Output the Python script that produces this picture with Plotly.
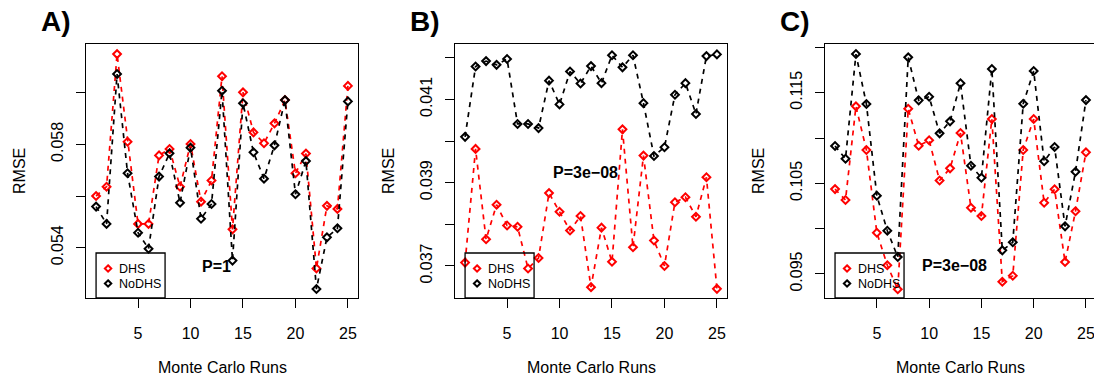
import plotly.graph_objects as go

W, H = 1094, 380

runs = list(range(1, 26))

# Panel A
a_dhs = [0.05600, 0.05636, 0.06149, 0.05810, 0.05492, 0.05492, 0.05757, 0.05782, 0.05636, 0.05801,
         0.05578, 0.05660, 0.06063, 0.05471, 0.06001, 0.05846, 0.05804, 0.05881, 0.05971, 0.05688,
         0.05764, 0.05320, 0.05562, 0.05550, 0.06026]
a_nodhs = [0.05559, 0.05492, 0.06072, 0.05688, 0.05458, 0.05396, 0.05675, 0.05765, 0.05574, 0.05787,
           0.05512, 0.05569, 0.06007, 0.05350, 0.05959, 0.05769, 0.05667, 0.05796, 0.05971, 0.05607,
           0.05735, 0.05240, 0.05440, 0.05475, 0.05966]

# Panel B
b_dhs = [0.03708, 0.03981, 0.03764, 0.03847, 0.03797, 0.03794, 0.03694, 0.03719, 0.03875, 0.03830,
         0.03785, 0.03820, 0.03649, 0.03792, 0.03710, 0.04028, 0.03745, 0.03965, 0.03761, 0.03700,
         0.03853, 0.03865, 0.03818, 0.03913, 0.03645]
b_nodhs = [0.04010, 0.04179, 0.04192, 0.04183, 0.04197, 0.04041, 0.04041, 0.04031, 0.04145, 0.04088,
           0.04167, 0.04138, 0.04180, 0.04139, 0.04206, 0.04177, 0.04206, 0.04091, 0.03964, 0.03985,
           0.04111, 0.04139, 0.04065, 0.04204, 0.04208]

# Panel C
c_dhs = [0.10436, 0.10316, 0.11350, 0.10868, 0.09955, 0.09595, 0.09330, 0.11323, 0.10915, 0.10975,
         0.10531, 0.10665, 0.11055, 0.10231, 0.10139, 0.11210, 0.09414, 0.09480, 0.10868, 0.11210,
         0.10286, 0.10434, 0.09631, 0.10191, 0.10842]
c_nodhs = [0.10912, 0.10771, 0.11927, 0.11375, 0.10363, 0.09977, 0.09687, 0.11891, 0.11416, 0.11456,
           0.11052, 0.11184, 0.11604, 0.10694, 0.10562, 0.11762, 0.09760, 0.09849, 0.11379, 0.11740,
           0.10743, 0.10901, 0.10025, 0.10628, 0.11419]

panel_labels = ["A)", "B)", "C)"]
p_labels = ["P=1", "P=3e\u221208", "P=3e\u221208"]
series_names = ["DHS", "NoDHS"]
x_ticks = [5, 10, 15, 20, 25]
a_yticks = [0.054, 0.056, 0.058, 0.060]
a_yticktext = ["0.054", "", "0.058", ""]
b_yticks = [0.037, 0.038, 0.039, 0.040, 0.041, 0.042]
b_yticktext = ["0.037", "", "0.039", "", "0.041", ""]
c_yticks = [0.095, 0.100, 0.105, 0.110, 0.115, 0.120]
c_yticktext = ["0.095", "", "0.105", "", "0.115", ""]

FONT = "Liberation Sans, Arial, Helvetica, sans-serif"
RED = "#FF0000"
BLACK = "#000000"

panels = [
    dict(dhs=a_dhs, nodhs=a_nodhs, px=(86, 358), xr=[0.04, 25.96], yr=[0.052054, 0.06188],
         yt=a_yticks, ytt=a_yticktext, p_y=0.123, mirror_y=True),
    dict(dhs=b_dhs, nodhs=b_nodhs, px=(455, 727), xr=[0.04, 25.96], yr=[0.03623, 0.04233],
         yt=b_yticks, ytt=b_yticktext, p_y=0.496, mirror_y=True),
    dict(dhs=c_dhs, nodhs=c_nodhs, px=(825, 1094), xr=[0.04, 25.77], yr=[0.09234, 0.12038],
         yt=c_yticks, ytt=c_yticktext, p_y=0.126, mirror_y=False),
]

top_px, bot_px = 44, 298
ydom = [(H - bot_px) / H, (H - top_px) / H]

fig = go.Figure()
layout = dict(width=W, height=H, margin=dict(l=0, r=0, t=0, b=0),
              paper_bgcolor="white", plot_bgcolor="white", showlegend=False,
              font=dict(family=FONT, size=16, color="black"))
annotations = []
shapes = []

for i, p in enumerate(panels):
    n = "" if i == 0 else str(i + 1)
    xa, ya = "x" + n, "y" + n
    for vals, col, name in [(p["dhs"], RED, series_names[0]), (p["nodhs"], BLACK, series_names[1])]:
        fig.add_trace(go.Scatter(
            x=runs, y=vals, mode="lines+markers", name=name, xaxis=xa, yaxis=ya,
            line=dict(color=col, width=1.7, dash="5px,5px"),
            marker=dict(symbol="diamond-open", size=6, color=col, line=dict(width=2, color=col)),
        ))
    layout["xaxis" + n] = dict(
        domain=[p["px"][0] / W, p["px"][1] / W], range=p["xr"], anchor=ya,
        tickvals=x_ticks, ticktext=[str(t) for t in x_ticks], ticks="outside", ticklen=9,
        tickwidth=1.3, tickcolor="black", showline=True, linecolor="black", linewidth=1.3,
        mirror=True, showgrid=False, zeroline=False, tickfont=dict(size=16),
        ticklabeloverflow="allow", ticklabelstandoff=12,
    )
    layout["yaxis" + n] = dict(
        domain=ydom, range=p["yr"], anchor=xa,
        tickvals=p["yt"], ticktext=p["ytt"], ticks="outside", ticklen=9, tickangle=-90,
        tickwidth=1.3, tickcolor="black", showline=True, linecolor="black", linewidth=1.3,
        mirror=p["mirror_y"], showgrid=False, zeroline=False, tickfont=dict(size=16),
        ticklabelstandoff=6,
    )
    # panel label
    annotations.append(dict(text="<b>" + panel_labels[i] + "</b>", xref="x" + n + " domain", x=0,
                            xshift=-(p["px"][0] - [39, 408, 778][i]), xanchor="left",
                            yref="paper", y=(H - 21.7) / H, yanchor="middle", showarrow=False,
                            font=dict(size=28, family=FONT)))
    # axis titles
    annotations.append(dict(text="Monte Carlo Runs", xref=xa, x=13, xanchor="center",
                            yref="paper", y=(H - 367) / H, yanchor="middle", showarrow=False,
                            font=dict(size=16)))
    annotations.append(dict(text="RMSE", xref=xa + " domain", x=0, xshift=-67, xanchor="center",
                            yref=ya + " domain", y=0.5, yanchor="middle", textangle=-90,
                            showarrow=False, font=dict(size=16)))
    # P value
    annotations.append(dict(text="<b>" + p_labels[i] + "</b>", xref=xa, x=12.45, xanchor="center",
                            yref=ya + " domain", y=p["p_y"], yanchor="middle", showarrow=False,
                            font=dict(size=16)))
    # legend box
    shapes.append(dict(type="rect", xref=xa, xsizemode="pixel", xanchor=1, x0=0, x1=69,
                       yref=ya + " domain", ysizemode="pixel", yanchor=0, y0=0, y1=45,
                       line=dict(color="black", width=1.3), fillcolor="rgba(0,0,0,0)"))
    for j, (col, nm, dy) in enumerate([(RED, series_names[0], 29.5), (BLACK, series_names[1], 14.5)]):
        r = 3.2
        shapes.append(dict(type="path", xref=xa, xsizemode="pixel", xanchor=1,
                           yref=ya + " domain", ysizemode="pixel", yanchor=0,
                           path=f"M {12} {dy + r} L {12 + r} {dy} L {12} {dy - r} L {12 - r} {dy} Z",
                           line=dict(color=col, width=2)))
        annotations.append(dict(text=nm, xref=xa, x=1, xshift=21, xanchor="left",
                                yref=ya + " domain", y=0, yshift=dy, yanchor="middle",
                                showarrow=False, font=dict(size=12.5, color="black")))

layout["annotations"] = annotations
layout["shapes"] = shapes
fig.update_layout(**layout)
fig.write_html("out.html", config={"displayModeBar": False},
               post_script="document.body.style.margin='0';document.body.style.padding='0';")
